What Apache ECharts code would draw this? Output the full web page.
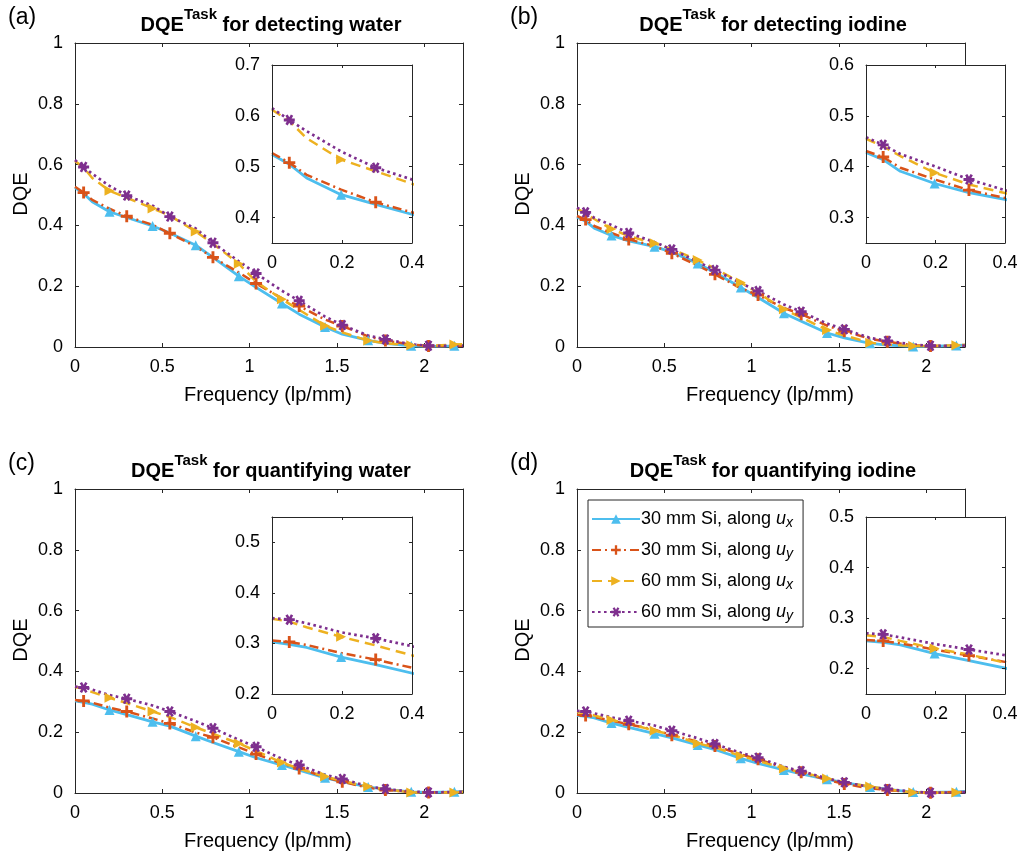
<!DOCTYPE html>
<html><head><meta charset="utf-8">
<script src="https://cdn.jsdelivr.net/npm/echarts@6/dist/echarts.min.js"></script>
<style>html,body{margin:0;padding:0;background:#fff}#c{width:1021px;height:854px}</style>
</head><body><div id="c"></div><script>
// spatial frequency samples (lp/mm)
const FREQ = [0, 0.0494, 0.0988, 0.1975, 0.2963, 0.4444, 0.5432, 0.6914, 0.7901, 0.9383, 1.0370, 1.1852, 1.2840, 1.4321, 1.5309, 1.6790, 1.7778, 1.9259, 2.0247, 2.1728, 2.2222];

// (a) detecting water
const a30x = [0.524,0.505,0.478,0.445,0.426,0.398,0.375,0.335,0.295,0.233,0.196,0.143,0.108,0.066,0.042,0.022,0.012,0.004,0.002,0.004,0.005];
const a30y = [0.527,0.508,0.484,0.455,0.430,0.402,0.374,0.330,0.295,0.245,0.209,0.160,0.135,0.090,0.069,0.035,0.021,0.008,0.003,0.003,0.004];
const a60x = [0.612,0.590,0.556,0.514,0.491,0.456,0.432,0.380,0.340,0.274,0.215,0.157,0.122,0.070,0.048,0.021,0.012,0.006,0.004,0.008,0.009];
const a60y = [0.615,0.592,0.570,0.530,0.498,0.465,0.429,0.390,0.343,0.282,0.242,0.185,0.152,0.100,0.072,0.038,0.025,0.009,0.004,0.004,0.004];
// (b) detecting iodine
const b30x = [0.428,0.414,0.391,0.367,0.349,0.330,0.312,0.275,0.245,0.196,0.163,0.111,0.085,0.046,0.030,0.012,0.006,0.002,0.002,0.005,0.006];
const b30y = [0.431,0.419,0.398,0.375,0.354,0.332,0.308,0.268,0.239,0.193,0.171,0.128,0.108,0.070,0.052,0.027,0.017,0.006,0.003,0.004,0.005];
const b60x = [0.455,0.440,0.421,0.388,0.365,0.341,0.322,0.286,0.258,0.212,0.178,0.124,0.097,0.056,0.038,0.014,0.008,0.003,0.003,0.006,0.007];
const b60y = [0.458,0.443,0.425,0.401,0.375,0.345,0.321,0.280,0.253,0.210,0.184,0.140,0.116,0.077,0.058,0.030,0.020,0.008,0.004,0.004,0.005];
// (c) quantifying water
const c30x = [0.303,0.298,0.292,0.273,0.258,0.234,0.220,0.187,0.166,0.136,0.116,0.092,0.075,0.050,0.037,0.020,0.012,0.004,0.002,0.004,0.005];
const c30y = [0.306,0.303,0.297,0.281,0.268,0.245,0.229,0.199,0.183,0.150,0.128,0.097,0.081,0.052,0.037,0.017,0.010,0.003,0.002,0.003,0.004];
const c60x = [0.349,0.343,0.332,0.313,0.296,0.268,0.250,0.216,0.195,0.163,0.138,0.100,0.080,0.054,0.040,0.021,0.012,0.002,0.002,0.002,0.003];
const c60y = [0.350,0.347,0.340,0.322,0.310,0.288,0.268,0.236,0.213,0.175,0.152,0.112,0.092,0.060,0.046,0.022,0.013,0.005,0.002,0.003,0.004];
// (d) quantifying iodine
const d30x = [0.255,0.252,0.247,0.230,0.216,0.195,0.181,0.158,0.143,0.114,0.097,0.076,0.063,0.045,0.034,0.020,0.012,0.003,0.002,0.004,0.005];
const d30y = [0.257,0.255,0.250,0.238,0.226,0.208,0.190,0.169,0.155,0.127,0.111,0.083,0.068,0.043,0.030,0.015,0.010,0.003,0.001,0.003,0.004];
const d60x = [0.266,0.263,0.255,0.240,0.228,0.205,0.192,0.163,0.150,0.122,0.106,0.081,0.068,0.048,0.035,0.021,0.012,0.002,0.001,0.002,0.003];
const d60y = [0.270,0.268,0.262,0.249,0.238,0.222,0.205,0.180,0.161,0.132,0.116,0.086,0.072,0.048,0.035,0.020,0.013,0.004,0.001,0.002,0.003];

const SERIES_NAMES = ['30 mm Si, along ux','30 mm Si, along uy','60 mm Si, along ux','60 mm Si, along uy'];
const LEG_THICK = ['30 mm Si','30 mm Si','60 mm Si','60 mm Si'];
const LEG_DIR = ['x','y','x','y'];
const PANEL_LETTERS = ['(a)','(b)','(c)','(d)'];
const PANEL_TITLES = [' for detecting water',' for detecting iodine',' for quantifying water',' for quantifying iodine'];
const MAIN_X_TICKS = [0,0.5,1,1.5,2];
const INSET_Y = [[0.35,0.7,[0.4,0.5,0.6,0.7]],[0.25,0.6,[0.3,0.4,0.5,0.6]],[0.2,0.55,[0.2,0.3,0.4,0.5]],[0.15,0.5,[0.2,0.3,0.4,0.5]]];
const PANEL_DATA = [[a30x,a30y,a60x,a60y],[b30x,b30y,b60x,b60y],[c30x,c30y,c60x,c60y],[d30x,d30y,d60x,d60y]];

// ---------- styling / layout ----------
const FONT = '"Liberation Sans", Arial, Helvetica, sans-serif';
const COLORS = ['#4DBEEE','#D95319','#EDB120','#7E2F8E'];
const AX = '#262626';
const MARK_A = new Set([1,4,6,8,10,12,14,16,18]);
const MARK_B = new Set([3,5,7,9,11,13,15,17,19]);
const SYM_PLUS = 'path://M3.8,0 L6.2,0 L6.2,3.8 L10,3.8 L10,6.2 L6.2,6.2 L6.2,10 L3.8,10 L3.8,6.2 L0,6.2 L0,3.8 L3.8,3.8 Z';
const SYM_RTRI = 'path://M0,0 L10,5 L0,10 Z';
const SYM_STAR = 'path://M0,3.7 L10,3.7 L10,6.3 L0,6.3 Z M3.539,0.07 L8.539,8.73 L6.461,9.93 L1.461,1.27 Z M8.539,1.27 L3.539,9.93 L1.461,8.73 L6.461,0.07 Z';
const STYLES = [
  {type:'solid', width:2.8, symbol:'triangle', marks:MARK_B, size:10},
  {type:[9,4,2,4], width:2.5, symbol:SYM_PLUS, marks:MARK_A, size:12},
  {type:[10,6], width:2.5, symbol:SYM_RTRI, marks:MARK_B, size:10},
  {type:[2.6,3.4], width:2.7, symbol:SYM_STAR, marks:MARK_A, size:11}
];
const LAYOUT = [
  {main:{left:75, top:43, width:388, height:304}, inset:{left:272, top:65, width:140, height:178}},
  {main:{left:577, top:43, width:388, height:304}, inset:{left:866, top:65, width:139, height:178}},
  {main:{left:75, top:489, width:388, height:304}, inset:{left:272, top:517, width:140, height:177}},
  {main:{left:577, top:489, width:388, height:304}, inset:{left:866, top:517, width:139, height:177}}
];

const grids = [], xAxes = [], yAxes = [], series = [], graphics = [];
const labelStyle = {color:'#000', fontFamily:FONT, fontSize:18};

function addAxes(gi, isInset, yMin, yMax, yTicks) {
  const tickLen = isInset ? 3 : 4;
  const common = {gridIndex:gi, z:isInset?8:1, axisLine:{show:true, onZero:false, lineStyle:{color:AX, width:1}}, splitLine:{show:false}};
  const xb = Object.assign({}, common, {type:'value', position:'bottom', min:0, max:isInset?0.4:2.2222,
    axisTick:{show:true, inside:true, length:tickLen, lineStyle:{color:AX}},
    axisLabel:Object.assign({show:true, margin:11}, labelStyle)});
  if (isInset) { xb.interval = 0.2; }
  else { xb.axisTick.customValues = MAIN_X_TICKS; xb.axisLabel.customValues = MAIN_X_TICKS; }
  const xt = JSON.parse(JSON.stringify(xb)); xt.position = 'top'; xt.axisLabel = {show:false};
  const yl = Object.assign({}, common, {type:'value', position:'left', min:yMin, max:yMax,
    axisTick:{show:true, inside:true, length:tickLen, lineStyle:{color:AX}},
    axisLabel:Object.assign({show:true, margin:12}, labelStyle)});
  if (yTicks) { yl.axisTick.customValues = yTicks; yl.axisLabel.customValues = yTicks; }
  else { yl.interval = 0.2; }
  const yr = JSON.parse(JSON.stringify(yl)); yr.position = 'right'; yr.axisLabel = {show:false};
  xAxes.push(xb, xt); yAxes.push(yl, yr);
}

PANEL_DATA.forEach((pd, p) => {
  const L = LAYOUT[p];
  [false, true].forEach(isInset => {
    const gi = grids.length;
    const box = isInset ? L.inset : L.main;
    grids.push(Object.assign({show:true, backgroundColor:'#fff', borderWidth:0, z:isInset?3:0}, box));
    if (isInset) addAxes(gi, true, INSET_Y[p][0], INSET_Y[p][1], INSET_Y[p][2]);
    else addAxes(gi, false, 0, 1, null);
    pd.forEach((vals, s) => {
      const st = STYLES[s];
      series.push({
        type:'line', name:SERIES_NAMES[s], xAxisIndex:gi*2, yAxisIndex:gi*2, clip:true,
        z: isInset ? 5 : 2,
        data: FREQ.map((f, j) => [f, vals[j]]),
        showSymbol:true, symbol:st.symbol,
        symbolSize:(v, prm) => st.marks.has(prm.dataIndex) ? st.size : 0,
        itemStyle:{color:COLORS[s]},
        lineStyle:{color:COLORS[s], width:st.width, type:st.type, cap:'butt'},
        emphasis:{disabled:true}
      });
    });
  });
  const m = L.main;
  const cx = m.left + m.width/2;
  graphics.push({type:'text', left:m.left-67, top:m.top-37, style:{text:PANEL_LETTERS[p], font:'23px '+FONT, fill:'#000'}});
  graphics.push({type:'text', x:cx + 2, y:m.top-22, style:{
    text:'{m|DQE}{s|Task}{m|'+PANEL_TITLES[p]+'}', align:'center', verticalAlign:'middle',
    rich:{m:{fontSize:20, fontWeight:'bold', fontFamily:FONT, fill:'#000', lineHeight:28, verticalAlign:'bottom'},
          s:{fontSize:15, fontWeight:'bold', fontFamily:FONT, fill:'#000', lineHeight:28, verticalAlign:'top'}}}});
  graphics.push({type:'text', x:cx - 1, y:m.top+m.height+48, style:{text:'Frequency (lp/mm)', font:'20px '+FONT, fill:'#000', align:'center', verticalAlign:'middle'}});
  graphics.push({type:'text', x:m.left-54, y:m.top+151, rotation:Math.PI/2, style:{text:'DQE', font:'20px '+FONT, fill:'#000', align:'center', verticalAlign:'middle'}});
});

const option = {
  animation:false,
  backgroundColor:'#fff',
  grid:grids, xAxis:xAxes, yAxis:yAxes, series:series, graphic:graphics,
  legend:{
    show:true, selectedMode:false, orient:'vertical', left:588, top:500,
    data:SERIES_NAMES, itemWidth:48, itemHeight:12, itemGap:7,
    padding:[6,10,4,3], borderColor:'#262626', borderWidth:1, backgroundColor:'#fff', z:10,
    formatter:(name) => { const i = SERIES_NAMES.indexOf(name); return '{t|'+LEG_THICK[i]+', along }{i|u}{b|'+LEG_DIR[i]+'}'; },
    textStyle:{padding:[0,0,0,-4], rich:{
      t:{fontSize:18, fontFamily:FONT, color:'#000', lineHeight:22, verticalAlign:'middle'},
      i:{fontSize:18, fontFamily:FONT, color:'#000', fontStyle:'italic', lineHeight:22, verticalAlign:'middle'},
      b:{fontSize:14, fontFamily:FONT, color:'#000', fontStyle:'italic', lineHeight:22, verticalAlign:'bottom', padding:[10,0,0,0]}
    }}
  }
};
const chart = echarts.init(document.getElementById('c'), null, {renderer:'canvas'});
chart.setOption(option);
</script></body></html>
